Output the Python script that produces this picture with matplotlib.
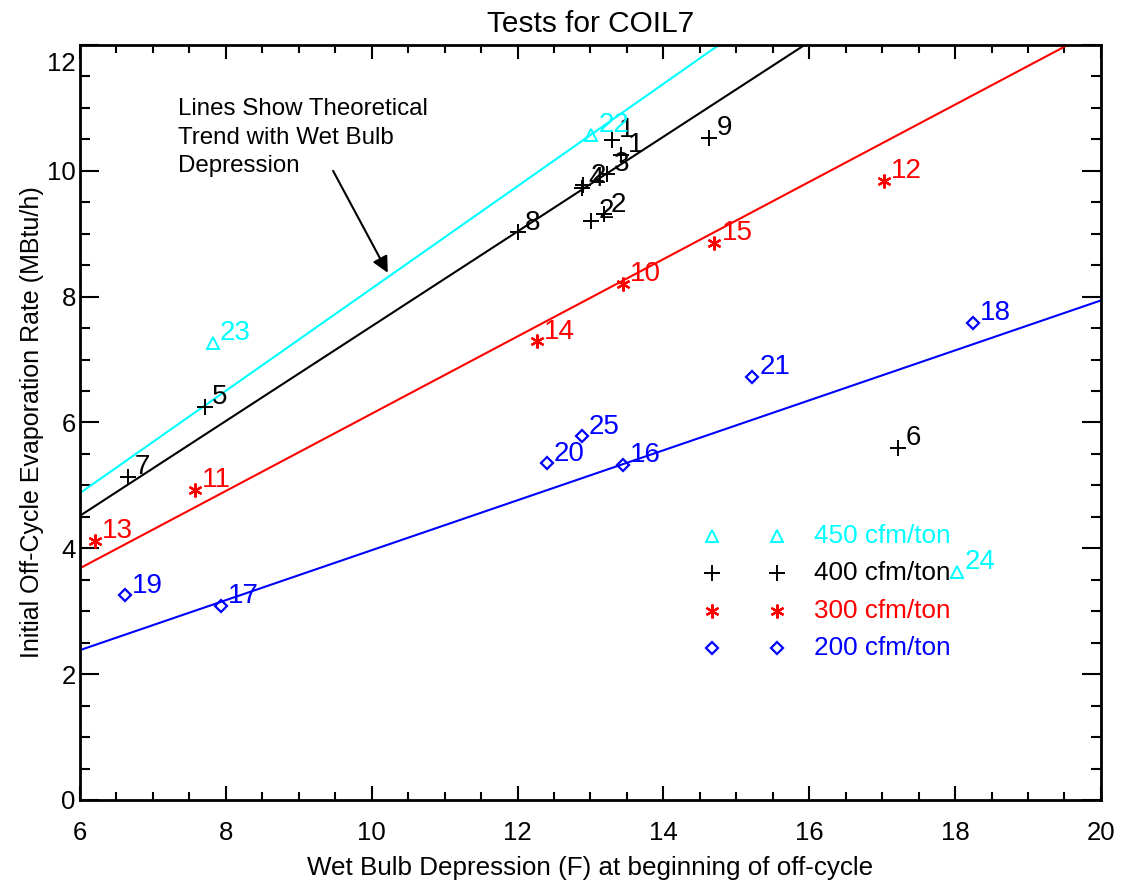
import matplotlib
matplotlib.use("Agg")
import matplotlib.pyplot as plt
import matplotlib.transforms as mtransforms
import numpy as np

plt.rcParams['font.family'] = ['Liberation Sans', 'DejaVu Sans']

# Measured tests, grouped by air flow
x450 = [13.01, 7.82, 18.03]
y450 = [10.57, 7.27, 3.63]
n450 = ['22', '23', '24']

x400 = [13.30, 13.42, 14.63, 13.22, 12.90, 12.88, 13.01, 13.18, 12.01, 7.71, 6.66, 17.22]
y400 = [10.49, 10.25, 10.52, 9.95, 9.77, 9.72, 9.20, 9.31, 9.02, 6.25, 5.14, 5.60]
n400 = ['1', '1', '9', '3', '2', '4', '2', '2', '8', '5', '7', '6']

x300 = [17.03, 14.70, 13.44, 12.26, 7.58, 6.21]
y300 = [9.84, 8.85, 8.20, 7.29, 4.93, 4.12]
n300 = ['12', '15', '10', '14', '11', '13']

x200 = [18.25, 15.22, 12.88, 12.40, 13.45, 6.62, 7.93]
y200 = [7.58, 6.73, 5.78, 5.35, 5.33, 3.25, 3.09]
n200 = ['18', '21', '25', '20', '16', '19', '17']

# Theoretical trend: evaporation rate proportional to wet bulb depression
slopes = {'450': 0.813, '400': 0.753, '300': 0.614, '200': 0.397}

series_names = ['450 cfm/ton', '400 cfm/ton', '300 cfm/ton', '200 cfm/ton']
colors = ['#00ffff', 'black', 'red', 'blue']

fig = plt.figure(figsize=(11.21, 8.82), dpi=100)
ax = fig.add_axes([0.0714, 0.093, 0.9107, 0.856])

xs = np.linspace(6, 20, 200)
for key, c in zip(['450', '400', '300', '200'], colors):
    ax.plot(xs, slopes[key] * xs, color=c, lw=1.5, zorder=2)

marker_styles = [
    dict(marker='^', ms=8, mfc='none', mew=1.4),
    dict(marker='+', ms=11, mew=1.4),
    dict(marker=(6, 2, 0), ms=10, mew=1.6),
    dict(marker='D', ms=6.5, mfc='none', mew=1.6),
]

groups = [(x200, y200, n200, 3), (x300, y300, n300, 2),
          (x400, y400, n400, 1), (x450, y450, n450, 0)]
for gx, gy, gn, i in groups:
    c = colors[i]
    ax.plot(gx, gy, ls='none', color=c, mec=c, zorder=3, **marker_styles[i])
    for px, py, lab in zip(gx, gy, gn):
        ax.annotate(lab, (px, py), xytext=(5, 7), textcoords='offset points',
                    ha='left', va='center', color=c, fontsize=20, zorder=4)

# Legend built from marker pairs and coloured labels
leg_y = [4.19, 3.60, 3.01, 2.42]
for i, (name, c) in enumerate(zip(series_names, colors)):
    for lx in (14.67, 15.56):
        ax.plot([lx], [leg_y[i]], ls='none', color=c, mec=c, **marker_styles[i])
    ax.text(16.07, leg_y[i], name, color=c, fontsize=18.8, ha='left', va='center')

ax.text(7.34, 11.15, 'Lines Show Theoretical\nTrend with Wet Bulb\nDepression',
        fontsize=17.4, ha='left', va='top', linespacing=1.36)
ax.annotate('', xy=(10.22, 8.38), xytext=(9.47, 10.0),
            arrowprops=dict(arrowstyle='-|>', color='black', lw=1.5,
                            mutation_scale=24, shrinkA=0, shrinkB=0))

ax.set_xlim(6, 20)
ax.set_ylim(0, 12)
ax.set_xticks(np.arange(6, 21, 2))
ax.set_yticks(np.arange(0, 13, 2))
ax.set_xticks(np.arange(6, 20.01, 0.5), minor=True)
ax.set_yticks(np.arange(0, 12.01, 0.5), minor=True)
ax.tick_params(axis='both', which='both', direction='in', top=True, right=True,
               width=1.5, labelsize=18.5)
ax.tick_params(axis='x', which='major', length=10, pad=15)
ax.tick_params(axis='x', which='minor', length=6)
ax.tick_params(axis='y', which='major', length=14, pad=3)
ax.tick_params(axis='y', which='minor', length=7)
for s in ax.spines.values():
    s.set_linewidth(2)

# keep the top y tick label clear of the frame
top_label = ax.yaxis.get_major_ticks()[-1].label1
top_label.set_transform(top_label.get_transform() +
                        mtransforms.ScaledTranslation(0, -12 / 72, fig.dpi_scale_trans))

ax.set_title('Tests for COIL7', fontsize=21.5, pad=9)
ax.set_xlabel('Wet Bulb Depression (F) at beginning of off-cycle', fontsize=18.7, labelpad=8)
ax.set_ylabel('Initial Off-Cycle Evaporation Rate (MBtu/h)', fontsize=18, labelpad=2)

fig.savefig('out.png', dpi=100)
